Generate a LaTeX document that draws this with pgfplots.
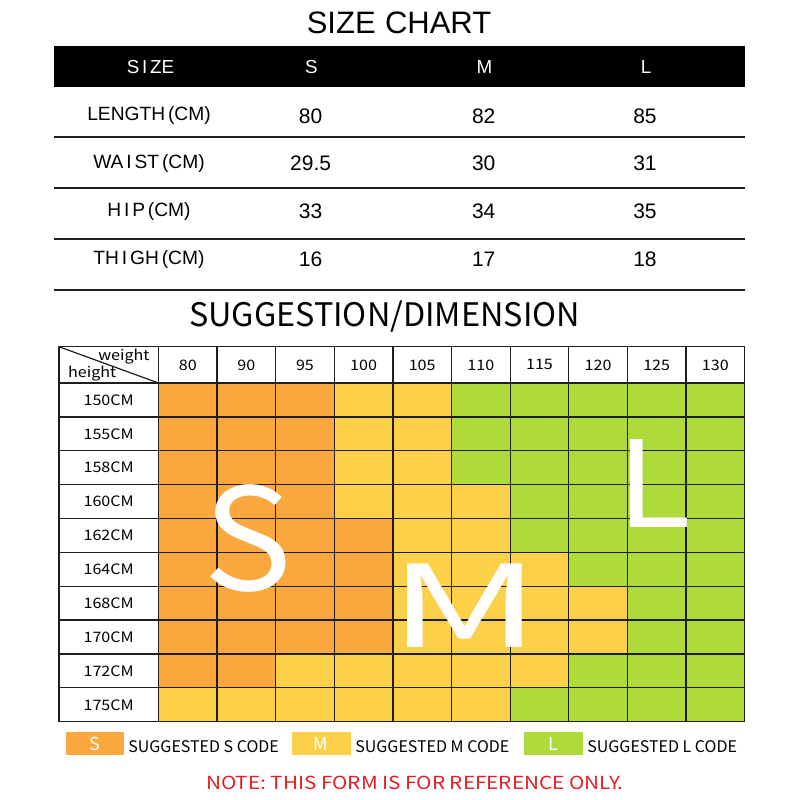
\documentclass[border=0pt]{standalone}
\usepackage{fontspec}
\usepackage{pgfplots}
\usepackage{pgfplotstable}
\pgfplotsset{compat=1.18}
\setmainfont{Noto Sans CJK SC}
\newfontfamily\arialf{Liberation Sans}
\newcommand\fs[1]{\fontsize{#1}{#1}\selectfont}
\definecolor{sorange}{RGB}{251,169,63}
\definecolor{myellow}{RGB}{253,208,74}
\definecolor{lgreen}{RGB}{174,219,58}
\definecolor{notered}{RGB}{230,30,35}
\definecolor{gridc}{RGB}{30,30,30}

% size codes: 0 = S, 1 = M, 2 = L ; x = weight column, y = height row
\pgfplotstableread{
x y c
0 0 0
1 0 0
2 0 0
3 0 1
4 0 1
5 0 2
6 0 2
7 0 2
8 0 2
9 0 2
0 1 0
1 1 0
2 1 0
3 1 1
4 1 1
5 1 2
6 1 2
7 1 2
8 1 2
9 1 2
0 2 0
1 2 0
2 2 0
3 2 1
4 2 1
5 2 2
6 2 2
7 2 2
8 2 2
9 2 2
0 3 0
1 3 0
2 3 0
3 3 1
4 3 1
5 3 1
6 3 2
7 3 2
8 3 2
9 3 2
0 4 0
1 4 0
2 4 0
3 4 0
4 4 1
5 4 1
6 4 2
7 4 2
8 4 2
9 4 2
0 5 0
1 5 0
2 5 0
3 5 0
4 5 1
5 5 1
6 5 1
7 5 2
8 5 2
9 5 2
0 6 0
1 6 0
2 6 0
3 6 0
4 6 1
5 6 1
6 6 1
7 6 1
8 6 2
9 6 2
0 7 0
1 7 0
2 7 0
3 7 0
4 7 1
5 7 1
6 7 1
7 7 1
8 7 2
9 7 2
0 8 0
1 8 0
2 8 1
3 8 1
4 8 1
5 8 1
6 8 1
7 8 2
8 8 2
9 8 2
0 9 1
1 9 1
2 9 1
3 9 1
4 9 1
5 9 1
6 9 2
7 9 2
8 9 2
9 9 2
}\gridtable

\begin{document}
\begin{tikzpicture}
\path (0pt,0pt) rectangle (400pt,-400pt);
\begin{scope}[x=0.5pt,y=-0.5pt,every node/.style={inner sep=0pt}]
  % ---- top table ----
  \node[font=\arialf\fs{15.5}] at (399,23.3) {SIZE\hspace{0.3em}CHART};
  \fill[black] (54,46) rectangle (745,86.7);
  \foreach \yy in {136.7,187.7,239,290}
    \draw[gridc,line width=1pt] (54,\yy) -- (745,\yy);
  \begin{scope}[every node/.append style={font=\arialf\fs{9.4}, white}]
    \node at (150.5,67.2) {S\hspace{0.15em}I\hspace{0.15em}ZE};
    \node at (311.5,67.2) {S};
    \node at (484.5,67.2) {M};
    \node at (646,67.2) {L};
  \end{scope}
  \begin{scope}[every node/.append style={font=\arialf\fs{9.6}}]
    \node at (149,115.8) {LENGTH\hspace{0.15em}(CM)};
    \node at (149,163.3) {WA\hspace{0.15em}I\hspace{0.15em}ST\hspace{0.15em}(CM)};
    \node at (149,211.2) {H\hspace{0.15em}I\hspace{0.15em}P\hspace{0.15em}(CM)};
    \node at (149,259.2) {TH\hspace{0.15em}I\hspace{0.15em}GH\hspace{0.15em}(CM)};
  \end{scope}
  \begin{scope}[every node/.append style={font=\arialf\fs{10.5}}]
    \node at (310.6,115.8) {80};   \node at (483.7,115.8) {82};   \node at (645,115.8) {85};
    \node at (310.6,163.3) {29.5}; \node at (483.7,163.3) {30};   \node at (645,163.3) {31};
    \node at (310.6,211.2) {33};   \node at (483.7,211.2) {34};   \node at (645,211.2) {35};
    \node at (310.6,259.2) {16};   \node at (483.7,259.2) {17};   \node at (645,259.2) {18};
  \end{scope}
  % ---- second title ----
  \node[font=\fs{16.2}] at (384.5,317) {SUGGESTION/DIMENSION};
  % ---- legend ----
  \fill[sorange] (65.6,732) rectangle (123.7,755);
  \fill[myellow] (292,732) rectangle (350.5,755);
  \fill[lgreen]  (524,732) rectangle (582.6,755);
  \node[white,font=\fs{8.9}] at (94.6,743.5) {S};
  \node[white,font=\fs{8.9}] at (321.2,743.5) {M};
  \node[white,font=\fs{8.9}] at (553.3,743.5) {L};
  \node[anchor=west,font=\fs{8.0}] at (128,746.3) {SUGGESTED S CODE};
  \node[anchor=west,font=\fs{8.0}] at (355,746.3) {SUGGESTED M CODE};
  \node[anchor=west,font=\fs{8.0}] at (587,746.3) {SUGGESTED L CODE};
  \node[notered,font=\fs{9}, xscale=1.15] at (414.9,783.3) {NOTE: THIS FORM IS FOR REFERENCE ONLY.};
\end{scope}

\begin{axis}[
  at={(200.9pt,-267.1pt)}, anchor=center,
  width=342.8pt, height=187.5pt, scale only axis,
  xmin=-2.198, xmax=9.5, ymin=-1.572, ymax=9.5, y dir=reverse,
  xtick={-0.5,0.5,1.5,2.5,3.5,4.5,5.5,6.5,7.5,8.5},
  ytick={-0.5,0.5,1.5,2.5,3.5,4.5,5.5,6.5,7.5,8.5},
  xticklabels={}, yticklabels={},
  major tick length=0pt,
  grid=major, major grid style={gridc, line width=0.65pt},
  axis line style={gridc, line width=0.65pt},
  axis on top,
  colormap={sml}{rgb255=(251,169,63) rgb255=(253,208,74) rgb255=(174,219,58)},
  colormap access=direct,
]
\addplot[matrix plot*, mesh/cols=10, point meta=explicit] table[x=x,y=y,meta=c] {\gridtable};
\draw[gridc, line width=0.6pt] (axis cs:-2.198,-1.572) -- (axis cs:-0.5,-0.5);
\end{axis}

\begin{scope}[x=0.5pt,y=-0.5pt,every node/.style={inner sep=0pt}]
  \node[anchor=base east, font=\fs{7.2}, xscale=1.12] at (150,360.7) {weight};
  \node[anchor=base west, font=\fs{7.2}, xscale=1.12] at (67.7,377.3) {height};
  \foreach \w/\xx in {80/187.8,90/246.4,95/305.0,100/363.6,105/422.2,110/480.9,115/539.5,120/598.1,125/656.7,130/715.3}
    \node[font=\fs{7.2}, xscale=1.12] at (\xx,364.9) {\w};
  \foreach \h/\yy in {150CM/399.9,155CM/433.8,158CM/467.7,160CM/501.6,162CM/535.4,164CM/569.3,168CM/603.2,170CM/637.1,172CM/671.0,175CM/704.8}
    \node[font=\fs{7.2}, xscale=1.12] at (108.7,\yy) {\h};
  \node[white,font=\fs{71}, xscale=1.05] at (247.5,538.5) {S};
  \node[white,font=\fs{57}, xscale=1.65] at (464.8,606) {M};
  \node[white,font=\fs{60}, xscale=1.15] at (653.5,483.5) {L};
\end{scope}
\end{tikzpicture}
\end{document}
